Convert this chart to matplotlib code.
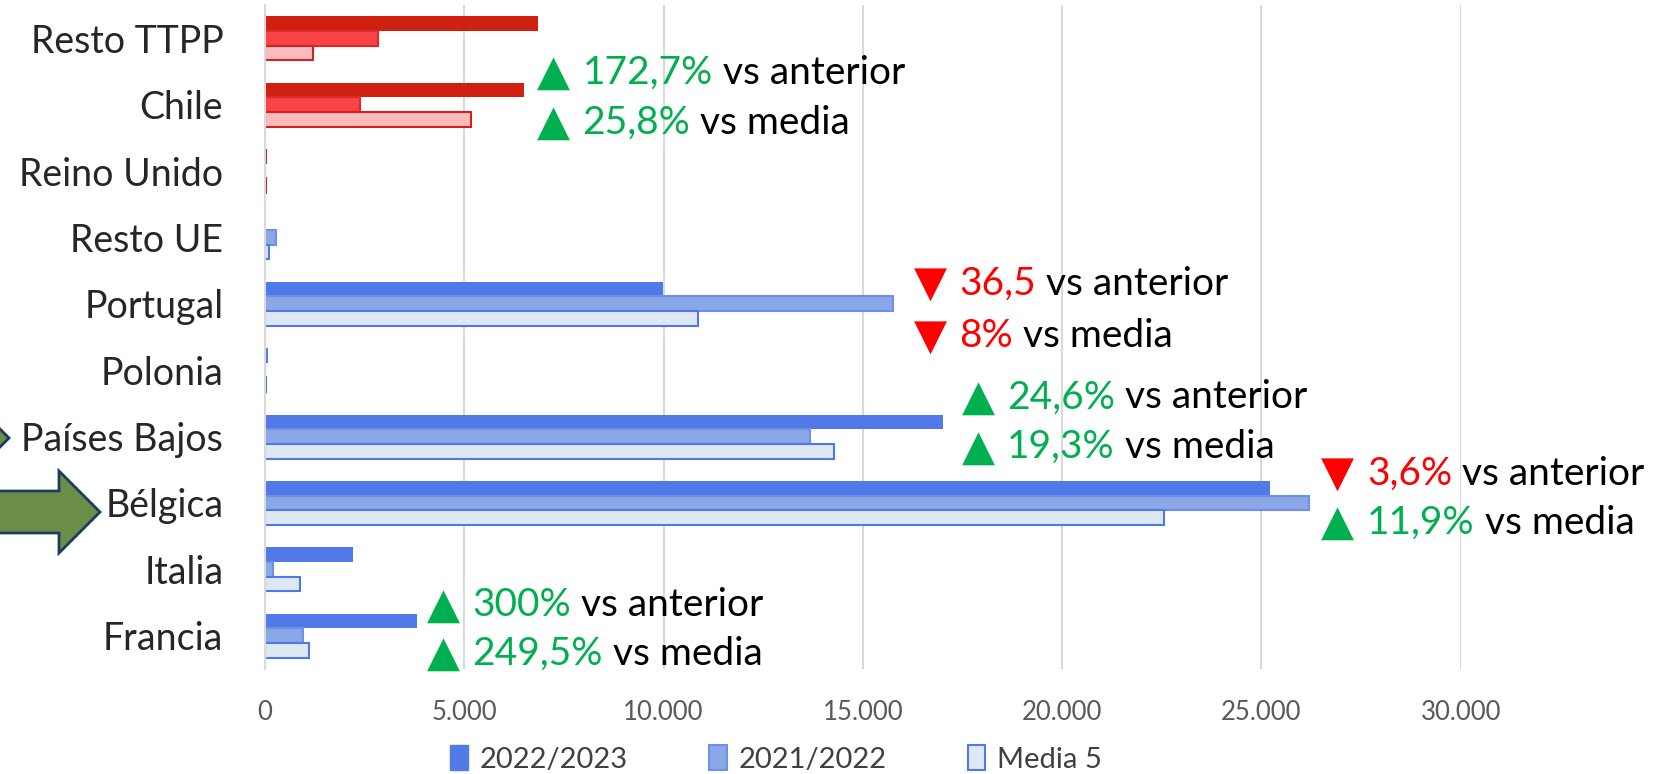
import numpy as np
import matplotlib.pyplot as plt
from matplotlib.patches import Polygon, Patch

# datos (de abajo hacia arriba)
paises = ['Francia', 'Italia', 'Bélgica', 'Países Bajos', 'Polonia',
          'Portugal', 'Resto UE', 'Reino Unido', 'Chile', 'Resto TTPP']
v_2223 = [3824, 2204, 25226, 17021, 70, 9984, 20, 60, 6506, 6851]
v_2122 = [956, 212, 26182, 13675, 0, 15746, 290, 0, 2390, 2841]
media5 = [1094, 876, 22543, 14286, 15, 10860, 90, 20, 5178, 1195]
rojo = [False] * 7 + [True] * 3

xticks = [0, 5000, 10000, 15000, 20000, 25000, 30000]
xlabels = ['0', '5.000', '10.000', '15.000', '20.000', '25.000', '30.000']

# anotaciones: simbolo, porcentaje, texto
notas_sym = ['▲', '▲', '▼', '▼', '▲', '▲', '▼', '▲', '▲', '▲']
notas_pct = ['172,7%', '25,8%', '36,5', '8%', '24,6%', '19,3%', '3,6%', '11,9%', '300%', '249,5%']
notas_txt = [' vs anterior', ' vs media'] * 5
notas_x = [6824, 6824, 16277, 16277, 17472, 17472, 26500, 26500, 4063, 4063]
notas_y = [8.48, 7.73, 5.30, 4.51, 3.59, 2.84, 2.44, 1.70, 0.46, -0.27]

plt.rcParams['font.family'] = ['Lato', 'DejaVu Sans']

fig = plt.figure(figsize=(16.6, 7.74), dpi=100)
ax = fig.add_axes([0.1596, 0.1357, 0.880 - 0.1596, 0.9935 - 0.1357])

y = np.arange(len(paises))
h = 0.22
azul = dict(c1='#5279E8', c2='#8AA8E6', e2='#6E90EA', c3='#DEE8F5', e3='#4F78E8')
roj = dict(c1='#D02010', c2='#F84444', e2='#E02828', c3='#F9BBBB', e3='#D42020')

for i in range(len(paises)):
    col = roj if rojo[i] else azul
    ax.barh(y[i] + h, v_2223[i], height=h, color=col['c1'], linewidth=0)
    ax.barh(y[i], v_2122[i], height=h, color=col['c2'], edgecolor=col['e2'], linewidth=1.5)
    ax.barh(y[i] - h, media5[i], height=h, color=col['c3'], edgecolor=col['e3'], linewidth=1.5)

ax.set_xlim(0, 30000)
ax.set_ylim(-0.5, 9.5)
ax.set_xticks(xticks)
ax.set_xticklabels(xlabels, fontsize=18.5, color='#595959')
ax.set_yticks(y)
ax.set_yticklabels(paises, fontsize=27, color='#262626')
ax.tick_params(axis='both', length=0)
ax.tick_params(axis='y', pad=30)
ax.tick_params(axis='x', pad=22)
ax.xaxis.grid(True, color='#D9D9D9', linewidth=1.5)
ax.set_axisbelow(True)
for s in ['top', 'right', 'bottom']:
    ax.spines[s].set_visible(False)
ax.spines['left'].set_color('#D9D9D9')
ax.spines['left'].set_linewidth(1.5)

# anotaciones
for i in range(len(notas_pct)):
    c = '#00B050' if notas_sym[i] == '▲' else '#FF0000'
    t = ax.text(notas_x[i], notas_y[i], notas_sym[i], color=c, fontsize=31,
                family=['DejaVu Sans'], va='center', ha='left', clip_on=False)
    t2 = ax.annotate(notas_pct[i], xy=(1, 0.5), xycoords=t, xytext=(9, 0),
                     textcoords='offset points', va='center', ha='left',
                     color=c, fontsize=28, annotation_clip=False)
    ax.annotate(notas_txt[i], xy=(1, 0), xycoords=t2, va='bottom', ha='left',
                color='black', fontsize=28, annotation_clip=False)

# flechas verdes
W, H = 1660, 774
def flecha(tip_x, cy, head_len=41, head_half=41, body_half=21, left=-60):
    pts = [(left, cy - body_half), (tip_x - head_len, cy - body_half),
           (tip_x - head_len, cy - head_half), (tip_x, cy),
           (tip_x - head_len, cy + head_half), (tip_x - head_len, cy + body_half),
           (left, cy + body_half)]
    pts = [(px / W, 1 - py / H) for px, py in pts]
    fig.patches.append(Polygon(pts, closed=True, transform=fig.transFigure,
                               facecolor='#6A8E46', edgecolor='#1F3A5F', linewidth=2))

flecha(100, 512)
flecha(9, 438)

# leyenda
handles = [Patch(facecolor=azul['c1'], edgecolor=azul['c1']),
           Patch(facecolor=azul['c2'], edgecolor=azul['e2'], linewidth=1.5),
           Patch(facecolor=azul['c3'], edgecolor=azul['e3'], linewidth=1.5)]
fig.legend(handles, ['2022/2023', '2021/2022', 'Media 5'], loc='center',
           bbox_to_anchor=(0.4675, 1 - 759 / H), ncol=3, frameon=False,
           fontsize=21, labelcolor='#404040', handlelength=0.6, handleheight=0.9,
           handletextpad=0.4, columnspacing=2.8)

fig.savefig('out.png', dpi=100)
